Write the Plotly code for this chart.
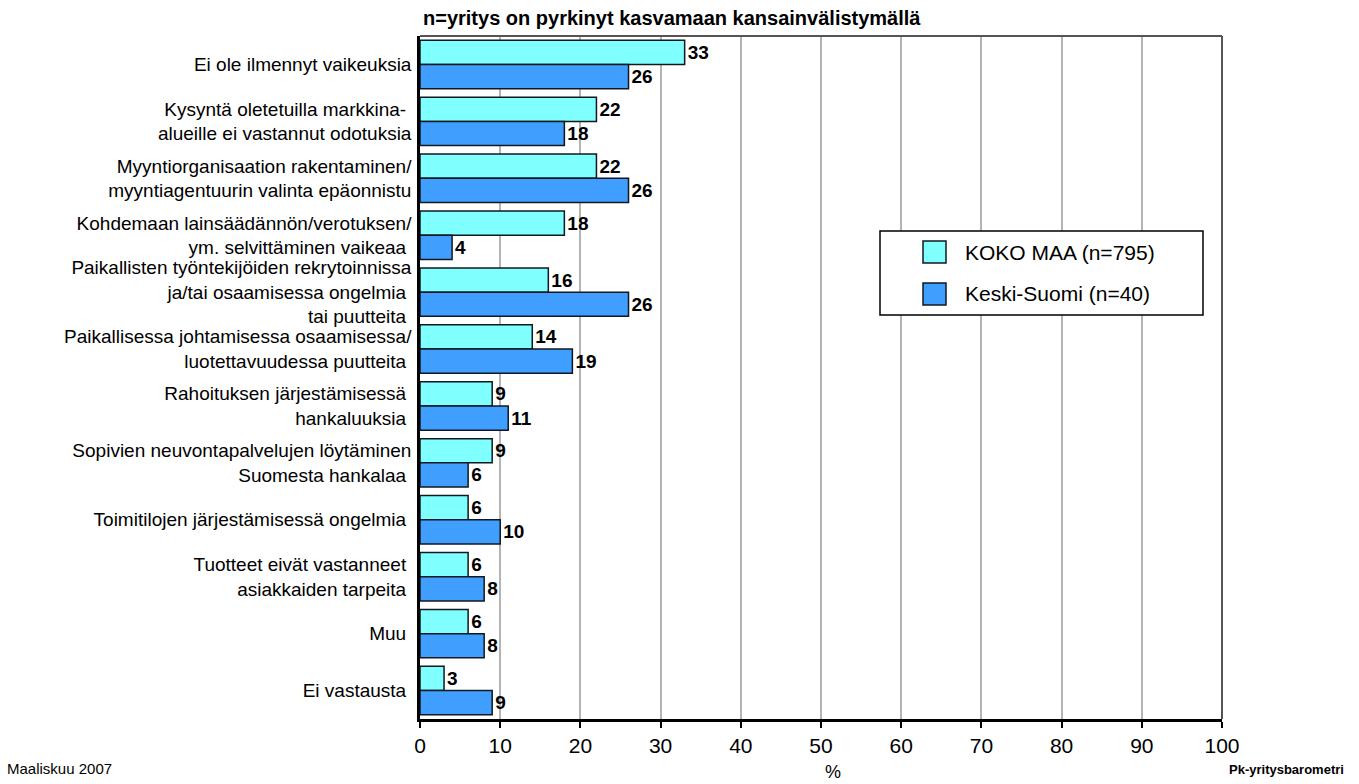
import plotly.graph_objects as go

NB = "\u00a0"
categories = [
    "Ei ole ilmennyt vaikeuksia",
    "Kysyntä oletetuilla markkina-" + NB + "<br>alueille ei vastannut odotuksia",
    "Myyntiorganisaation rakentaminen/<br>myyntiagentuurin valinta epäonnistu",
    "Kohdemaan lainsäädännön/verotuksen/<br>ym. selvittäminen vaikeaa" + NB,
    "Paikallisten työntekijöiden rekrytoinnissa<br>ja/tai osaamisessa ongelmia" + NB + "<br>tai puutteita" + NB,
    "Paikallisessa johtamisessa osaamisessa/<br>luotettavuudessa puutteita" + NB,
    "Rahoituksen järjestämisessä" + NB + "<br>hankaluuksia" + NB,
    "Sopivien neuvontapalvelujen löytäminen<br>Suomesta hankalaa" + NB,
    "Toimitilojen järjestämisessä ongelmia" + NB,
    "Tuotteet eivät vastanneet" + NB + "<br>asiakkaiden tarpeita" + NB,
    "Muu" + NB,
    "Ei vastausta" + NB,
]
koko_maa = [33, 22, 22, 18, 16, 14, 9, 9, 6, 6, 6, 3]
keski_suomi = [26, 18, 26, 4, 26, 19, 11, 6, 10, 8, 8, 9]
series_names = ["KOKO MAA (n=795)", "Keski-Suomi (n=40)"]
series_colors = ["#80FFFF", "#3F9EFF"]
x_ticks = [0, 10, 20, 30, 40, 50, 60, 70, 80, 90, 100]

FONT = "Liberation Sans, Arial, sans-serif"

fig = go.Figure()
for name, vals, col in zip(series_names, [koko_maa, keski_suomi], series_colors):
    fig.add_trace(go.Bar(
        y=categories, x=vals, name=name, orientation="h",
        marker=dict(color=col, line=dict(color="#101820", width=1.5)),
        text=[str(v) for v in vals], textposition="outside",
        textfont=dict(family=FONT, size=19, color="black", weight="bold"),
        cliponaxis=False, constraintext="none", showlegend=False,
    ))

# plot area in pixels
W, H = 1359, 784
L, R, T, B = 420, 1222, 36, 719

def px(x):
    return (x - L) / (R - L)

def py(y):
    return (B - y) / (B - T)

shapes = [
    dict(type="line", xref="paper", yref="paper", x0=0, x1=1, y0=1, y1=1,
         line=dict(color="#555555", width=2)),
    dict(type="line", xref="paper", yref="paper", x0=1, x1=1, y0=0, y1=1,
         line=dict(color="#555555", width=2)),
    dict(type="rect", xref="paper", yref="paper", x0=px(880), x1=px(1203),
         y0=py(315), y1=py(231), line=dict(color="black", width=1.5), fillcolor="white"),
]
legend_rows = [252, 294]
annotations = []
for name, col, yc in zip(series_names, series_colors, legend_rows):
    shapes.append(dict(type="rect", xref="paper", yref="paper", x0=px(923), x1=px(946),
                       y0=py(yc + 11), y1=py(yc - 11), line=dict(color="#101820", width=1.5),
                       fillcolor=col))
    annotations.append(dict(text=name, xref="paper", yref="paper", x=px(963), y=py(yc),
                            xanchor="left", yanchor="middle", showarrow=False,
                            font=dict(family=FONT, size=21, color="black")))

annotations += [
    dict(text="<b>n=yritys on pyrkinyt kasvamaan kansainvälistymällä</b>", xref="paper", yref="paper",
         x=px(672), y=py(18), xanchor="center", yanchor="middle", showarrow=False,
         font=dict(family=FONT, size=20, color="black")),
    dict(text="%", xref="paper", yref="paper", x=px(833), y=py(772), xanchor="center",
         yanchor="middle", showarrow=False, font=dict(family=FONT, size=18, color="black")),
    dict(text="Maaliskuu 2007", xref="paper", yref="paper", x=px(5), y=py(768), xanchor="left",
         yanchor="middle", showarrow=False, font=dict(family=FONT, size=15, color="black")),
    dict(text="<b>Pk-yritysbarometri</b>", xref="paper", yref="paper", x=px(1346), y=py(769),
         xanchor="right", yanchor="middle", showarrow=False, font=dict(family=FONT, size=13, color="black")),
]

fig.update_layout(
    width=W, height=H,
    margin=dict(l=L, r=W - R, t=T, b=H - B, pad=0),
    barmode="group", bargap=0.15, bargroupgap=0,
    plot_bgcolor="white", paper_bgcolor="white",
    font=dict(family=FONT, size=16, color="black"),
    shapes=shapes, annotations=annotations,
)
fig.update_xaxes(
    range=[0, 100], tickvals=x_ticks, showgrid=True, gridcolor="#B4B4B4", gridwidth=1.5,
    showline=True, linecolor="black", linewidth=2.5, ticks="outside", ticklen=6,
    tickcolor="black", tickwidth=1.5, tickfont=dict(family=FONT, size=21, color="black"),
    zeroline=False, fixedrange=True,
)
fig.update_yaxes(
    categoryorder="array", categoryarray=categories, autorange="reversed",
    showline=True, linecolor="black", linewidth=2.5, ticks="", showgrid=False,
    tickfont=dict(family=FONT, size=19, color="black"), ticklabelstandoff=2,
)

fig.write_html("out.html", config={"displayModeBar": False},
               post_script="document.body.style.margin='0px';")
